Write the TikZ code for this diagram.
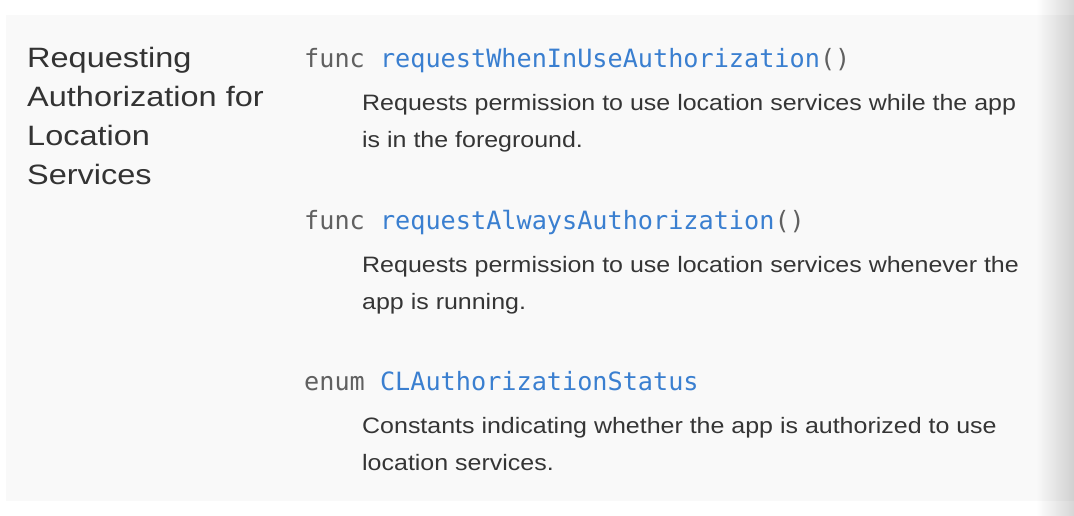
\documentclass[tikz,border=0pt]{standalone}
\usepackage{fontspec}
\usetikzlibrary{fadings}
\newfontfamily\titlefont[FakeStretch=1.16]{Liberation Sans}
\newfontfamily\descfont[FakeStretch=1.12]{Liberation Sans}
\newfontfamily\codefont{DejaVu Sans Mono}
\definecolor{panelbg}{HTML}{F9F9F9}
\definecolor{titlecol}{HTML}{333333}
\definecolor{desccol}{HTML}{353535}
\definecolor{kwcol}{HTML}{606060}
\definecolor{namecol}{HTML}{3A7FD0}
\tikzset{
  titleline/.style={anchor=base west, inner sep=0pt, text=titlecol, font=\titlefont\fontsize{28}{39}\selectfont},
  codeline/.style={anchor=base west, inner sep=0pt, text=kwcol, font=\codefont\fontsize{25.2}{30}\selectfont},
  descline/.style={anchor=base west, inner sep=0pt, text=desccol, font=\descfont\fontsize{22.3}{37}\selectfont}
}
\newcommand{\nm}[1]{\textcolor{namecol}{#1}}
\begin{document}
\begin{tikzpicture}[x=1pt,y=-1pt]
\useasboundingbox (0,0) rectangle (1074,516);
\fill[white] (0,0) rectangle (1074,516);
\fill[panelbg] (6,15) rectangle (1074,501);
\fill[black, path fading=west, fill opacity=0.16] (1036,0) rectangle (1074,516);
% title
\node[titleline] (t1) at (27,68) {Requesting};
\node[titleline] (t2) at (27,107) {Authorization for};
\node[titleline] (t3) at (27,146) {Location};
\node[titleline] (t4) at (27,185) {Services};
% block 1
\node[codeline] (c1) at (304,68) {func \nm{requestWhenInUseAuthorization}()};
\node[descline] (d1a) at (362,111) {Requests permission to use location services while the app};
\node[descline] (d1b) at (362,148) {is in the foreground.};
% block 2
\node[codeline] (c2) at (304,229) {func \nm{requestAlwaysAuthorization}()};
\node[descline] (d2a) at (362,272) {Requests permission to use location services whenever the};
\node[descline] (d2b) at (362,309) {app is running.};
% block 3
\node[codeline] (c3) at (304,390) {enum \nm{CLAuthorizationStatus}};
\node[descline] (d3a) at (362,433) {Constants indicating whether the app is authorized to use};
\node[descline] (d3b) at (362,470) {location services.};
\end{tikzpicture}
\end{document}
